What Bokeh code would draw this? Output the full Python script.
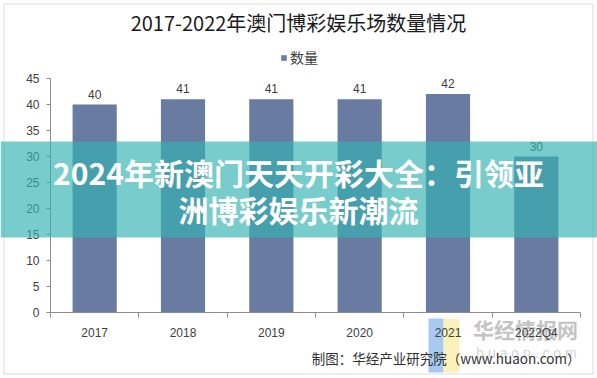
from bokeh.plotting import figure
from bokeh.models import (Range1d, FixedTicker, Label, BoxAnnotation, Legend, LegendItem)
from bokeh.core.properties import value
from bokeh.embed import file_html
from bokeh.resources import INLINE

# ---- data ----
categories = ["2017", "2018", "2019", "2020", "2021", "2022Q4"]
counts = [40, 41, 41, 41, 42, 30]
y_ticks = [0, 5, 10, 15, 20, 25, 30, 35, 40, 45]
title_text = "2017-2022年澳门博彩娱乐场数量情况"
series_name = "数量"
banner_line1 = "2024年新澳门天天开彩大全：引领亚"
banner_line2 = "洲博彩娱乐新潮流"
source_text = "制图：华经产业研究院（www.huaon.com）"
watermark_cn = "华经情报网"
watermark_en = "h u a o n . c o m"

W, H = 597, 378
n = len(categories)
centers = [i + 0.5 for i in range(n)]
bounds = [i for i in range(n + 1)]

# frame covers the whole canvas; the data area sits at px x 50..580, y 312 (0) upward 5.2 px/unit
px_per_x = (580 - 50) / n
px_per_y = 5.2
x_range = Range1d(-50 / px_per_x, n + (W - 580) / px_per_x)
y_range = Range1d(-(H - 312) / px_per_y, 312 / px_per_y)

p = figure(width=W, height=H, output_backend="svg", toolbar_location=None,
           x_range=x_range, y_range=y_range,
           min_border=0, min_border_left=0, min_border_right=0,
           min_border_top=0, min_border_bottom=0)
p.outline_line_color = None
p.xgrid.grid_line_color = None
p.ygrid.grid_line_color = None
p.background_fill_color = "white"
p.border_fill_color = "white"

def canvas_label(x, y, text, size, color, font="Noto Sans CJK SC", style="normal",
                 align="center", level="annotation"):
    lab = Label(x=x, y=y, x_units="canvas", y_units="canvas", text=text,
                text_align=align, text_baseline="middle", text_font=font,
                text_font_size=size, text_color=color, text_font_style=style, level=level)
    p.add_layout(lab)
    return lab

def canvas_box(left, right, top, bottom, **kw):
    box = BoxAnnotation(left=left, right=right, top=top, bottom=bottom,
                        left_units="canvas", right_units="canvas",
                        top_units="canvas", bottom_units="canvas", **kw)
    p.add_layout(box)
    return box

# watermark logo and text (beneath the chart)
canvas_box(428, 443, 318, 372, fill_color="#9fc4f0", fill_alpha=0.9, line_color=None,
           level="underlay")
canvas_box(443, 459, 318, 372, fill_color="#fbf0b4", fill_alpha=0.9, line_color=None,
           level="underlay")
canvas_label(525, 328, watermark_cn, "21px", "#c4c4c4", style="bold", level="underlay")
canvas_label(526, 352, watermark_en, "14px", "#d4d4d4", font="Liberation Sans",
             level="underlay")

bars = p.vbar(x=centers, top=counts, width=0.5, fill_color="#6a7ba2", line_color=None)
p.text(x=centers, y=counts, text=[str(v) for v in counts], y_offset=-6,
       text_align="center", text_baseline="bottom", text_font=value("Liberation Sans"),
       text_font_size="12px", text_color="#404040")

# axes (fixed inside the frame)
ya = p.yaxis[0]
ya.fixed_location = 0
ya.ticker = FixedTicker(ticks=y_ticks)
ya.bounds = (0, 45)
ya.axis_line_color = "#8c8c8c"
ya.major_tick_line_color = "#8c8c8c"
ya.major_tick_in = 0
ya.major_tick_out = 4
ya.minor_tick_line_color = None
ya.major_label_text_font = "Liberation Sans"
ya.major_label_text_font_size = "12px"
ya.major_label_text_color = "#404040"
ya.major_label_standoff = 7

xa = p.xaxis[0]
xa.fixed_location = 0
xa.ticker = FixedTicker(ticks=centers, minor_ticks=bounds)
xa.bounds = (0, n)
xa.major_label_overrides = {c: s for c, s in zip(centers, categories)}
xa.axis_line_color = "#8c8c8c"
xa.major_tick_line_color = None
xa.major_tick_in = 0
xa.major_tick_out = 0
xa.minor_tick_line_color = "#8c8c8c"
xa.minor_tick_in = 0
xa.minor_tick_out = 5
xa.major_label_text_font = "Liberation Sans"
xa.major_label_text_font_size = "12px"
xa.major_label_text_color = "#404040"
xa.major_label_standoff = 8

# legend
legend = Legend(items=[LegendItem(label=series_name, renderers=[bars])],
                location=(280, H - 67), orientation="horizontal",
                label_text_font="Noto Sans CJK SC", label_text_font_size="14px",
                label_text_color="#404040", glyph_width=7, glyph_height=7,
                label_height=16, label_standoff=3, padding=0, margin=0, spacing=0,
                border_line_color=None, background_fill_alpha=0)
p.add_layout(legend)

# title
canvas_label(298, 22, title_text, "20px", "#1a1a1a")

# source
canvas_label(580, 357, source_text, "13.5px", "#303030", align="right")

# outer border
canvas_box(3.5, 592.5, 3.5, 373.5, fill_alpha=0, line_color="#8c8c8c", line_width=1)

# banner
canvas_box(0, W, 141, 237, fill_color="#34b2b2", fill_alpha=0.66, line_color=None,
           level="overlay")
canvas_label(298, 171, banner_line1, "30px", "white", style="bold", level="overlay")
canvas_label(298, 208, banner_line2, "30px", "white", style="bold", level="overlay")

open("out.html", "w").write(file_html(p, INLINE))
